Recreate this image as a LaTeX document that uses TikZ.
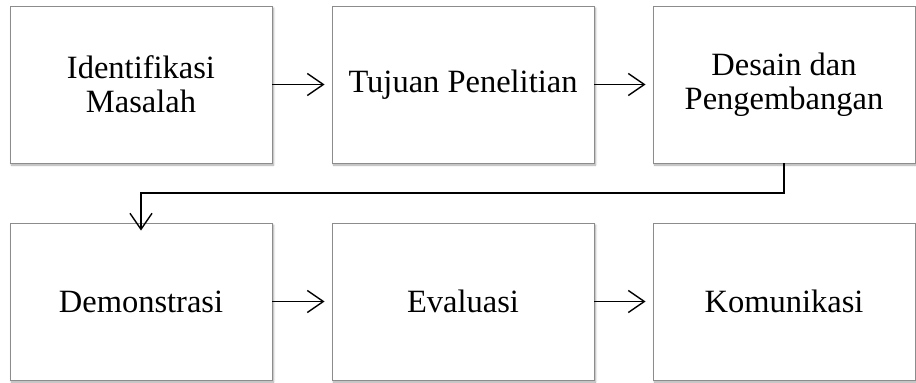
\documentclass[tikz,border=0pt]{standalone}
\usepackage{fontspec}
\setmainfont{Liberation Serif}
\usetikzlibrary{arrows.meta,shadows.blur}
\begin{document}
\begin{tikzpicture}[x=1pt,y=-1pt,
  stepbox/.style={draw=black!45, line width=0.9pt, fill=white,
    minimum width=262pt, minimum height=157pt, inner sep=0pt,
    align=center, font=\fontsize{32.5}{34}\selectfont,
    blur shadow={shadow xshift=1.5pt, shadow yshift=-2pt, shadow blur steps=6, shadow opacity=35}},
  flow/.style={line width=1.5pt, -{Straight Barb[length=16pt,width=22pt,line width=1.4pt]}}]
  \useasboundingbox (0,0) rectangle (916,383);
  % upper row
  \node[stepbox] (ident) at (141,84.5) {Identifikasi\\Masalah};
  \node[stepbox] (tujuan) at (463,84.5) {Tujuan Penelitian};
  \node[stepbox] (desain) at (784,84.5) {Desain dan\\Pengembangan};
  % lower row
  \node[stepbox] (demo) at (141,301.5) {Demonstrasi};
  \node[stepbox] (eval) at (463,301.5) {Evaluasi};
  \node[stepbox] (komu) at (784,301.5) {Komunikasi};
  % connectors
  \draw[flow] (ident.east) -- ([xshift=-7pt]tujuan.west);
  \draw[flow] (tujuan.east) -- ([xshift=-7pt]desain.west);
  \draw[flow] (demo.east) -- ([xshift=-7pt]eval.west);
  \draw[flow] (eval.east) -- ([xshift=-7pt]komu.west);
  \coordinate (bend) at (141,193);
  \draw[flow] (desain.south) |- (bend) -- ([yshift=-8pt]demo.north);
\end{tikzpicture}
\end{document}
